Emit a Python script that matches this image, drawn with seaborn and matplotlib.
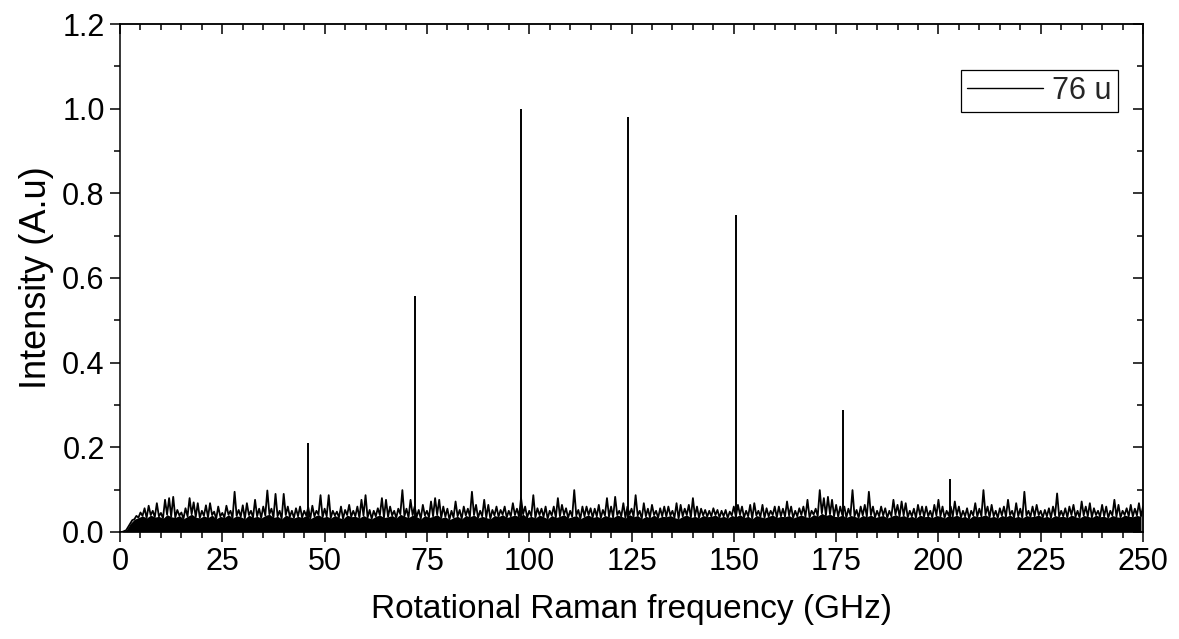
import numpy as np
import pandas as pd
import matplotlib
matplotlib.use("Agg")
import matplotlib.pyplot as plt
from matplotlib.ticker import MultipleLocator
import seaborn as sns

# ---- data ----
# Rotational Raman lines (GHz, normalised intensity)
peak_freq = [46.0, 72.1, 98.1, 124.2, 150.5, 176.6, 202.8]
peak_int = [0.210, 0.557, 1.000, 0.980, 0.750, 0.287, 0.126]

# noise floor: spike maximum in each 1 GHz bin (0..250 GHz)
noise_freq = list(range(0, 251))
noise_peak = [
    0.000, 0.002, 0.012, 0.028, 0.038, 0.046, 0.056, 0.062, 0.050, 0.068,
    0.045, 0.076, 0.080, 0.083, 0.052, 0.046, 0.056, 0.080, 0.070, 0.068,
    0.050, 0.063, 0.068, 0.048, 0.060, 0.045, 0.062, 0.050, 0.095, 0.052,
    0.063, 0.068, 0.050, 0.076, 0.055, 0.060, 0.098, 0.055, 0.090, 0.050,
    0.090, 0.060, 0.050, 0.056, 0.060, 0.050, 0.058, 0.062, 0.050, 0.087,
    0.055, 0.087, 0.050, 0.048, 0.060, 0.052, 0.064, 0.050, 0.060, 0.076,
    0.087, 0.052, 0.050, 0.056, 0.080, 0.076, 0.060, 0.050, 0.055, 0.099,
    0.055, 0.076, 0.060, 0.052, 0.064, 0.050, 0.072, 0.080, 0.076, 0.060,
    0.055, 0.050, 0.072, 0.052, 0.060, 0.055, 0.095, 0.064, 0.050, 0.076,
    0.064, 0.052, 0.060, 0.052, 0.060, 0.050, 0.068, 0.055, 0.080, 0.060,
    0.050, 0.087, 0.056, 0.055, 0.060, 0.050, 0.060, 0.080, 0.064, 0.056,
    0.050, 0.099, 0.052, 0.060, 0.060, 0.056, 0.055, 0.064, 0.052, 0.080,
    0.060, 0.083, 0.050, 0.068, 0.060, 0.055, 0.087, 0.050, 0.068, 0.055,
    0.064, 0.050, 0.056, 0.060, 0.060, 0.050, 0.068, 0.064, 0.055, 0.064,
    0.080, 0.060, 0.055, 0.052, 0.050, 0.056, 0.052, 0.050, 0.052, 0.048,
    0.060, 0.064, 0.060, 0.050, 0.064, 0.068, 0.050, 0.064, 0.056, 0.050,
    0.060, 0.060, 0.055, 0.072, 0.060, 0.050, 0.056, 0.060, 0.076, 0.050,
    0.055, 0.099, 0.080, 0.083, 0.076, 0.064, 0.060, 0.060, 0.055, 0.099,
    0.052, 0.060, 0.064, 0.095, 0.060, 0.050, 0.060, 0.056, 0.050, 0.076,
    0.064, 0.072, 0.068, 0.050, 0.055, 0.064, 0.060, 0.060, 0.050, 0.064,
    0.076, 0.060, 0.050, 0.060, 0.072, 0.060, 0.050, 0.056, 0.050, 0.068,
    0.055, 0.099, 0.060, 0.064, 0.050, 0.056, 0.060, 0.076, 0.050, 0.068,
    0.055, 0.095, 0.050, 0.060, 0.064, 0.050, 0.052, 0.056, 0.060, 0.091,
    0.050, 0.056, 0.060, 0.064, 0.050, 0.072, 0.060, 0.068, 0.056, 0.050,
    0.064, 0.060, 0.050, 0.076, 0.064, 0.050, 0.056, 0.064, 0.055, 0.068,
    0.060,
]
# valley level between the spikes (at the middle of each 1 GHz bin)
noise_floor = [
    0.000, 0.004, 0.020, 0.030, 0.034, 0.038, 0.033, 0.040, 0.035, 0.037,
    0.032, 0.041, 0.036, 0.034, 0.039, 0.031, 0.037, 0.042, 0.035, 0.033,
    0.038, 0.034, 0.040, 0.031, 0.037, 0.034, 0.041, 0.033, 0.038, 0.036,
    0.031, 0.040, 0.034, 0.037, 0.033, 0.039, 0.042, 0.034, 0.037, 0.031,
    0.040, 0.036, 0.033, 0.037, 0.034, 0.039, 0.031, 0.037, 0.041, 0.034,
    0.037, 0.033, 0.039, 0.034, 0.031, 0.040, 0.036, 0.037, 0.033, 0.039,
    0.034, 0.031, 0.037, 0.040, 0.034, 0.036, 0.039, 0.033, 0.042, 0.037,
    0.034, 0.040, 0.036, 0.031, 0.039, 0.034, 0.037, 0.041, 0.033, 0.036,
    0.029, 0.034, 0.037, 0.031, 0.039, 0.036, 0.040, 0.033, 0.037, 0.034,
    0.031, 0.039, 0.036, 0.041, 0.034, 0.037, 0.040, 0.036, 0.042, 0.034,
    0.037, 0.033, 0.040, 0.036, 0.031, 0.039, 0.034, 0.037, 0.041, 0.033,
    0.036, 0.039, 0.031, 0.037, 0.040, 0.034, 0.037, 0.033, 0.039, 0.036,
    0.034, 0.040, 0.037, 0.033, 0.041, 0.036, 0.039, 0.031, 0.037, 0.034,
    0.040, 0.033, 0.037, 0.036, 0.039, 0.034, 0.031, 0.037, 0.040, 0.034,
    0.037, 0.033, 0.039, 0.036, 0.037, 0.040, 0.034, 0.037, 0.033, 0.039,
    0.036, 0.041, 0.034, 0.037, 0.031, 0.039, 0.036, 0.033, 0.037, 0.040,
    0.034, 0.037, 0.036, 0.039, 0.033, 0.037, 0.040, 0.036, 0.034, 0.041,
    0.037, 0.044, 0.039, 0.042, 0.037, 0.036, 0.040, 0.034, 0.039, 0.037,
    0.033, 0.039, 0.036, 0.040, 0.034, 0.037, 0.039, 0.033, 0.037, 0.041,
    0.036, 0.039, 0.034, 0.037, 0.033, 0.040, 0.036, 0.037, 0.034, 0.039,
    0.037, 0.033, 0.039, 0.036, 0.040, 0.034, 0.037, 0.031, 0.039, 0.036,
    0.037, 0.041, 0.034, 0.037, 0.033, 0.039, 0.036, 0.040, 0.034, 0.037,
    0.033, 0.039, 0.036, 0.037, 0.040, 0.034, 0.037, 0.033, 0.039, 0.036,
    0.037, 0.034, 0.040, 0.036, 0.033, 0.039, 0.037, 0.034, 0.040, 0.036,
    0.037, 0.033, 0.039, 0.036, 0.034, 0.040, 0.037, 0.036, 0.039, 0.037,
]

x_ticks = [0, 25, 50, 75, 100, 125, 150, 175, 200, 225, 250]
y_ticks = [0.0, 0.2, 0.4, 0.6, 0.8, 1.0, 1.2]
series_label = "76 u"

# ---- build the spectrum table ----
floor_freq = [f + 0.5 for f in noise_freq[:-1]]
spec = pd.DataFrame({
    "freq": list(noise_freq) + floor_freq,
    "intensity": list(noise_peak) + list(noise_floor),
}).sort_values("freq").reset_index(drop=True)

# ---- style ----
sns.set_theme(style="ticks")
plt.rcParams["font.family"] = ["Liberation Sans", "DejaVu Sans"]
plt.rcParams["axes.linewidth"] = 1.1

fig = plt.figure(figsize=(11.79, 6.39), dpi=100)
ax = fig.add_axes([0.1018, 0.1675, 0.8677, 0.7949])

ax.fill_between(floor_freq, 0, noise_floor, color="black", lw=0)
sns.lineplot(data=spec, x="freq", y="intensity", ax=ax, color="black",
             lw=1.3, estimator=None, sort=False, label=series_label)
ax.vlines(peak_freq, 0, peak_int, color="black", lw=1.4)

ax.set_xlim(0, 250)
ax.set_ylim(0, 1.2)
ax.set_xticks(x_ticks)
ax.set_yticks(y_ticks)
ax.set_xticklabels([str(t) for t in x_ticks])
ax.set_yticklabels([f"{t:.1f}" for t in y_ticks])
ax.xaxis.set_minor_locator(MultipleLocator(5))
ax.yaxis.set_minor_locator(MultipleLocator(0.1))
ax.tick_params(which="major", direction="out", length=7, width=1.1,
               labelsize=22, colors="black", pad=4)
ax.tick_params(which="minor", direction="out", length=4, width=1.1,
               colors="black")

for s in ax.spines.values():
    s.set_visible(True)
    s.set_color("black")
    s.set_linewidth(1.1)

# top / right inward ticks
top = ax.secondary_xaxis("top")
top.set_xticks(x_ticks)
top.set_xticklabels([])
top.xaxis.set_minor_locator(MultipleLocator(5))
top.tick_params(which="major", direction="in", length=7, width=1.1, colors="black")
top.tick_params(which="minor", direction="in", length=4, width=1.1, colors="black")
right = ax.secondary_yaxis("right")
right.set_yticks(y_ticks)
right.set_yticklabels([])
right.yaxis.set_minor_locator(MultipleLocator(0.1))
right.tick_params(which="major", direction="in", length=7, width=1.1, colors="black")
right.tick_params(which="minor", direction="in", length=4, width=1.1, colors="black")

ax.set_xlabel("Rotational Raman frequency (GHz)", fontsize=24, labelpad=12,
              color="black")
ax.set_ylabel("Intensity (A.u)", fontsize=26, labelpad=6, color="black")

leg = ax.legend(loc="upper right", bbox_to_anchor=(0.9755, 0.91), fontsize=22,
                frameon=True, fancybox=False, framealpha=1, edgecolor="black",
                handlelength=2.5, handletextpad=0.3, borderpad=0.2,
                borderaxespad=0)
leg.get_frame().set_linewidth(0.9)
for line in leg.get_lines():
    line.set_linewidth(1.0)

fig.savefig("out.png", dpi=100)
